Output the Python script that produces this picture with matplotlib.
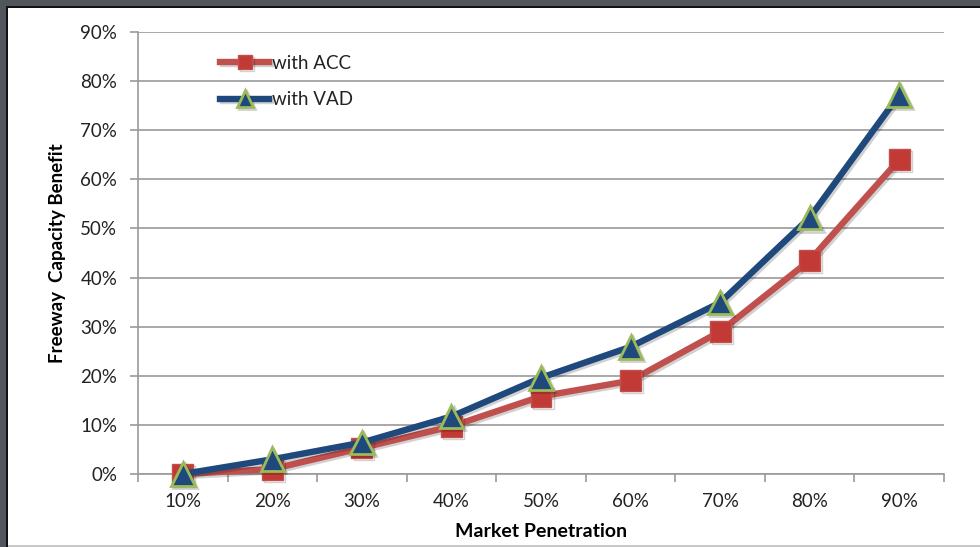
import matplotlib
matplotlib.use("Agg")
import matplotlib.pyplot as plt
import matplotlib.patheffects as pe
from matplotlib.patches import Rectangle
import numpy as np

# Market penetration categories and capacity benefit (%)
categories = ["10%", "20%", "30%", "40%", "50%", "60%", "70%", "80%", "90%"]
acc_values = [0.0, 1.0, 5.3, 9.7, 15.8, 19.0, 29.0, 43.5, 64.0]
vad_values = [0.0, 3.0, 6.4, 11.7, 19.6, 25.9, 34.9, 52.2, 77.2]
y_ticks = [0, 10, 20, 30, 40, 50, 60, 70, 80, 90]

FONT = ["Lato", "DejaVu Sans"]
plt.rcParams["font.family"] = FONT

fig = plt.figure(figsize=(9.8, 5.47), dpi=100)
fig.patch.set_facecolor("white")

# Window frame: dark band on the top and left, thin grey line at the bottom
W, H = 980, 547
fig.add_artist(Rectangle((0, 1 - 6 / H), 1, 6 / H, transform=fig.transFigure,
                         facecolor="#50565c", edgecolor="none", zorder=0))
fig.add_artist(Rectangle((0, 1 - 7.5 / H), 1, 1.5 / H, transform=fig.transFigure,
                         facecolor="#111111", edgecolor="none", zorder=0))
fig.add_artist(Rectangle((0, 0), 6 / W, 1, transform=fig.transFigure,
                         facecolor="#50565c", edgecolor="none", zorder=0))
fig.add_artist(Rectangle((6 / W, 0), 2 / W, 1 - 6 / H, transform=fig.transFigure,
                         facecolor="#111111", edgecolor="none", zorder=0))
fig.add_artist(Rectangle((8 / W, 0), 1, 2 / H, transform=fig.transFigure,
                         facecolor="#c8c8c8", edgecolor="none", zorder=0))

ax = fig.add_axes([138 / W, 1 - 474 / H, (944 - 138) / W, (474 - 32) / H])
ax.set_facecolor("none")

x = np.arange(len(categories))
shadow = [pe.SimpleLineShadow(offset=(1.5, -1.5), shadow_color="#000000", alpha=0.18), pe.Normal()]

ax.plot(x, acc_values, color="#c0504d", lw=4.6, marker="s", markersize=15,
        markerfacecolor="#c23a35", markeredgecolor="#c0504d", markeredgewidth=1,
        label="with ACC", zorder=3, path_effects=shadow, clip_on=False)
ax.plot(x, vad_values, color="#1f497d", lw=4.6, marker="^", markersize=17,
        markerfacecolor="#1f497d", markeredgecolor="#9bbb59", markeredgewidth=2,
        label="with VAD", zorder=4, path_effects=shadow, clip_on=False)

ax.set_xlim(-0.5, len(categories) - 0.5)
ax.set_ylim(0, 90)
ax.set_yticks(y_ticks)
ax.set_yticklabels([f"{v}%" for v in y_ticks])
ax.set_xticks(x)
ax.set_xticklabels(categories)
ax.set_xticks(np.arange(-0.5, len(categories), 1.0), minor=True)

ax.grid(axis="y", color="#9a9a9a", lw=1.2, zorder=0)
ax.set_axisbelow(True)
for side in ("top", "right"):
    ax.spines[side].set_visible(False)
for side in ("left", "bottom"):
    ax.spines[side].set_color("#9a9a9a")
    ax.spines[side].set_linewidth(1.2)

ax.tick_params(axis="y", length=6, width=1.2, color="#9a9a9a", labelsize=13.5,
               labelcolor="#222222", pad=9)
ax.tick_params(axis="x", which="major", length=0, labelsize=13.5,
               labelcolor="#222222", pad=14)
ax.tick_params(axis="x", which="minor", length=6, width=1.2, color="#9a9a9a")

ax.set_xlabel("Market Penetration", fontsize=14, fontweight="bold", labelpad=9)
ax.set_ylabel("Freeway  Capacity Benefit", fontsize=13.5, fontweight="bold", labelpad=10)

leg = ax.legend(loc="upper left", bbox_to_anchor=(0.093, 0.966), frameon=False,
                fontsize=13.5, handlelength=2.6, handletextpad=0.15,
                labelspacing=1.05, borderaxespad=0, markerscale=0.7)
for t in leg.get_texts():
    t.set_color("#222222")

fig.savefig("out.png", dpi=100, facecolor="white")
